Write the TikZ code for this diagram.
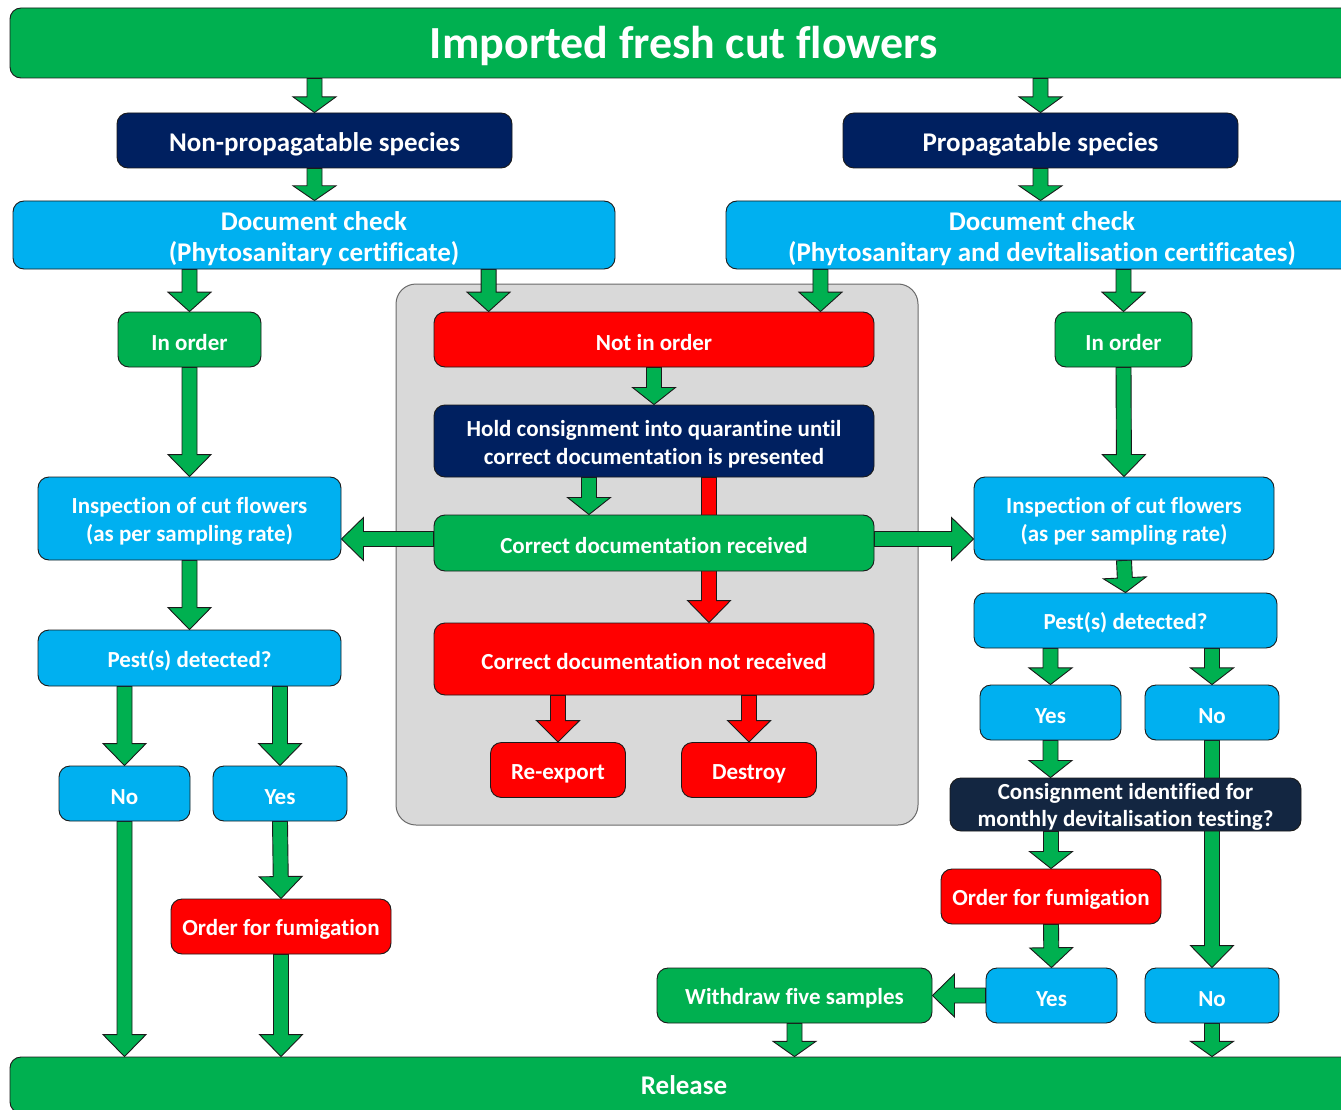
\documentclass[tikz,border=0pt]{standalone}
\usepackage{fontspec}
\setmainfont{Carlito}[Ligatures=NoCommon, RawFeature={-liga;-clig;-calt;-dlig}]
\usetikzlibrary{calc}

\definecolor{cgreen}{HTML}{00B050}
\definecolor{cblue}{HTML}{00B0F0}
\definecolor{cnavy}{HTML}{002060}
\definecolor{cdark}{HTML}{132641}
\definecolor{cred}{HTML}{FF0000}
\definecolor{cgrey}{HTML}{D9D9D9}
\definecolor{cgreyline}{HTML}{6A6A6A}
\definecolor{cline}{HTML}{1A1A1A}

\pgfdeclarelayer{bg}
\pgfdeclarelayer{arr}
\pgfsetlayers{bg,arr,main}

% block arrow from #2 to #3, filled with #1
\newcommand\flowarrow[3][cgreen]{%
  \begin{pgfonlayer}{arr}
  \path[draw=cline, line width=0.9pt, line join=miter, fill=#1]
    let \p1=(#2), \p2=(#3),
        \n1={atan2(\y2-\y1,\x2-\x1)},
        \n2={veclen(\x2-\x1,\y2-\y1)},
        \n3={min(22pt,0.46*\n2)} in
    ($(\p1)+(\n1+90:7.5pt)$)
    -- ($(\p1)+(\n1:\n2-\n3)+(\n1+90:7.5pt)$)
    -- ($(\p1)+(\n1:\n2-\n3)+(\n1+90:21.5pt)$)
    -- (\p2)
    -- ($(\p1)+(\n1:\n2-\n3)+(\n1-90:21.5pt)$)
    -- ($(\p1)+(\n1:\n2-\n3)+(\n1-90:7.5pt)$)
    -- ($(\p1)+(\n1-90:7.5pt)$) -- cycle;
  \end{pgfonlayer}}

% strut that sets the first line of a two-line label a little lower
\newcommand\firststrut{\rule{0pt}{0.95em}}
\newcommand\labelstrutht{0.95em}

\tikzset{
  lowered/.code={\def\labelstrutht{#1}},
  box/.style={draw=cline, line width=0.9pt, rounded corners=11pt, text=white,
    align=center, inner sep=0pt,
    execute at begin node={\rule{0pt}{\labelstrutht}},
    font=\bfseries\fontsize{23}{28}\selectfont},
  big/.style={font=\bfseries\fontsize{27}{31}\selectfont},
  sz/.style 2 args={minimum width=#1pt, minimum height=#2pt},
  gbox/.style={box, fill=cgreen},
  bbox/.style={box, fill=cblue},
  nbox/.style={box, fill=cnavy},
  rbox/.style={box, fill=cred},
}

\begin{document}
\begin{tikzpicture}[x=1pt, y=-1pt]
\useasboundingbox (0,0) rectangle (1341,1110);

% quarantine area
\begin{pgfonlayer}{bg}
  \node[draw=cgreyline, fill=cgrey, line width=1pt, rounded corners=20pt, sz={522}{541}]
    (quarantine) at (657,554.5) {};
\end{pgfonlayer}

% top and bottom bars
\node[gbox, sz={1348}{70}, font=\bfseries\fontsize{46}{50}\selectfont, lowered=0.82em] (title) at (684,43) {Imported fresh cut flowers};
\node[gbox, big, sz={1348}{56}, lowered=0pt] (release) at (684,1085) {Release};

% species
\node[nbox, big, sz={395}{55}] (nonprop) at (314.5,140.5) {Non-propagatable species};
\node[nbox, big, sz={395}{55}] (prop) at (1040.5,140.5) {Propagatable species};

% document checks
\node[bbox, big, sz={602}{68}] (docL) at (314,235) {\firststrut Document check\\(Phytosanitary certificate)};
\node[bbox, big, sz={632}{68}] (docR) at (1042,235) {\firststrut Document check\\(Phytosanitary and devitalisation certificates)};

% centre column
\node[rbox, sz={440}{55}] (notin) at (654,339.5) {Not in order};
\node[nbox, sz={440}{72}] (hold) at (654,441) {\firststrut Hold consignment into quarantine until\\correct documentation is presented};
\node[gbox, sz={440}{56}] (cdr) at (654,543) {Correct documentation received};
\node[rbox, sz={440}{72}] (cdnr) at (654,659) {Correct documentation not received};
\node[rbox, sz={135}{55}] (reexport) at (558,770) {Re-export};
\node[rbox, sz={135}{55}] (destroy) at (749,770) {Destroy};

% left column
\node[gbox, sz={143}{55}] (inL) at (189.5,339.5) {In order};
\node[bbox, sz={303}{83}] (inspL) at (189.5,518.5) {\firststrut Inspection of cut flowers\\(as per sampling rate)};
\node[bbox, sz={303}{56}] (pestL) at (189.5,658) {Pest(s) detected?};
\node[bbox, sz={131}{55}] (noL) at (124.5,793.5) {No};
\node[bbox, sz={134}{55}] (yesL) at (280,793.5) {Yes};
\node[rbox, sz={220}{55}] (fumL) at (281,926.5) {Order for fumigation};

% right column
\node[gbox, sz={137}{55}] (inR) at (1123.5,339.5) {In order};
\node[bbox, sz={300}{83}] (inspR) at (1124,518.5) {\firststrut Inspection of cut flowers\\(as per sampling rate)};
\node[bbox, sz={303}{55}] (pestR) at (1125.5,620.5) {Pest(s) detected?};
\node[bbox, sz={141}{55}] (yesR) at (1050.5,712.5) {Yes};
\node[bbox, sz={134}{55}] (noR) at (1212,712.5) {No};
\node[box, fill=cdark, sz={351}{53}, font=\bfseries\fontsize{23}{27}\selectfont] (consign) at (1125.5,804.5) {\firststrut Consignment identified for\\monthly devitalisation testing?};
\node[rbox, sz={220}{55}] (fumR) at (1051,896.5) {Order for fumigation};
\node[bbox, sz={131}{55}] (yesB) at (1051.5,995.5) {Yes};
\node[bbox, sz={134}{55}] (noB) at (1212,995.5) {No};
\node[gbox, sz={275}{55}] (withdraw) at (794.5,995.5) {Withdraw five samples};

% arrow entry points into "Not in order"
\coordinate (nl) at ([xshift=55pt]notin.north west);
\coordinate (nr) at ([xshift=-54pt]notin.north east);

% connectors
\flowarrow{title.south -| nonprop.north}{nonprop.north}
\flowarrow{title.south -| prop.north}{prop.north}
\flowarrow{nonprop.south}{nonprop.south |- docL.north}
\flowarrow{prop.south}{prop.south |- docR.north}
\flowarrow{inL.north |- docL.south}{inL.north}
\flowarrow{nl |- docL.south}{nl}
\flowarrow{nr |- docR.south}{nr}
\flowarrow{inR.north |- docR.south}{inR.north}
\flowarrow{notin.south}{hold.north}
\flowarrow{[xshift=-65pt]hold.south}{[xshift=-65pt]cdr.north}
\flowarrow[cred]{[xshift=55pt]hold.south}{[xshift=55pt]cdnr.north}
\flowarrow[cred]{reexport.north |- cdnr.south}{reexport.north}
\flowarrow[cred]{destroy.north |- cdnr.south}{destroy.north}
\flowarrow{[yshift=4pt]cdr.west}{[yshift=4pt]cdr.west -| inspL.east}
\flowarrow{[yshift=4pt]cdr.east}{[yshift=4pt]cdr.east -| inspR.west}

\flowarrow{inL.south}{inspL.north}
\flowarrow{inspL.south}{pestL.north}
\flowarrow{noL.north |- pestL.south}{noL.north}
\flowarrow{yesL.north |- pestL.south}{yesL.north}
\flowarrow{noL.south}{noL.south |- release.north}
\flowarrow{yesL.south}{fumL.north}
\flowarrow{fumL.south}{fumL.south |- release.north}

\flowarrow{inR.south}{inspR.north}
\flowarrow{inspR.south}{pestR.north}
\flowarrow{yesR.north |- pestR.south}{yesR.north}
\flowarrow{noR.north |- pestR.south}{noR.north}
\flowarrow{yesR.south}{yesR.south |- consign.north}
\flowarrow{noR.south}{noB.north}
\flowarrow{fumR.north |- consign.south}{fumR.north}
\flowarrow{fumR.south}{yesB.north}
\flowarrow{yesB.west}{withdraw.east}
\flowarrow{withdraw.south}{withdraw.south |- release.north}
\flowarrow{noB.south}{noB.south |- release.north}
\end{tikzpicture}
\end{document}
